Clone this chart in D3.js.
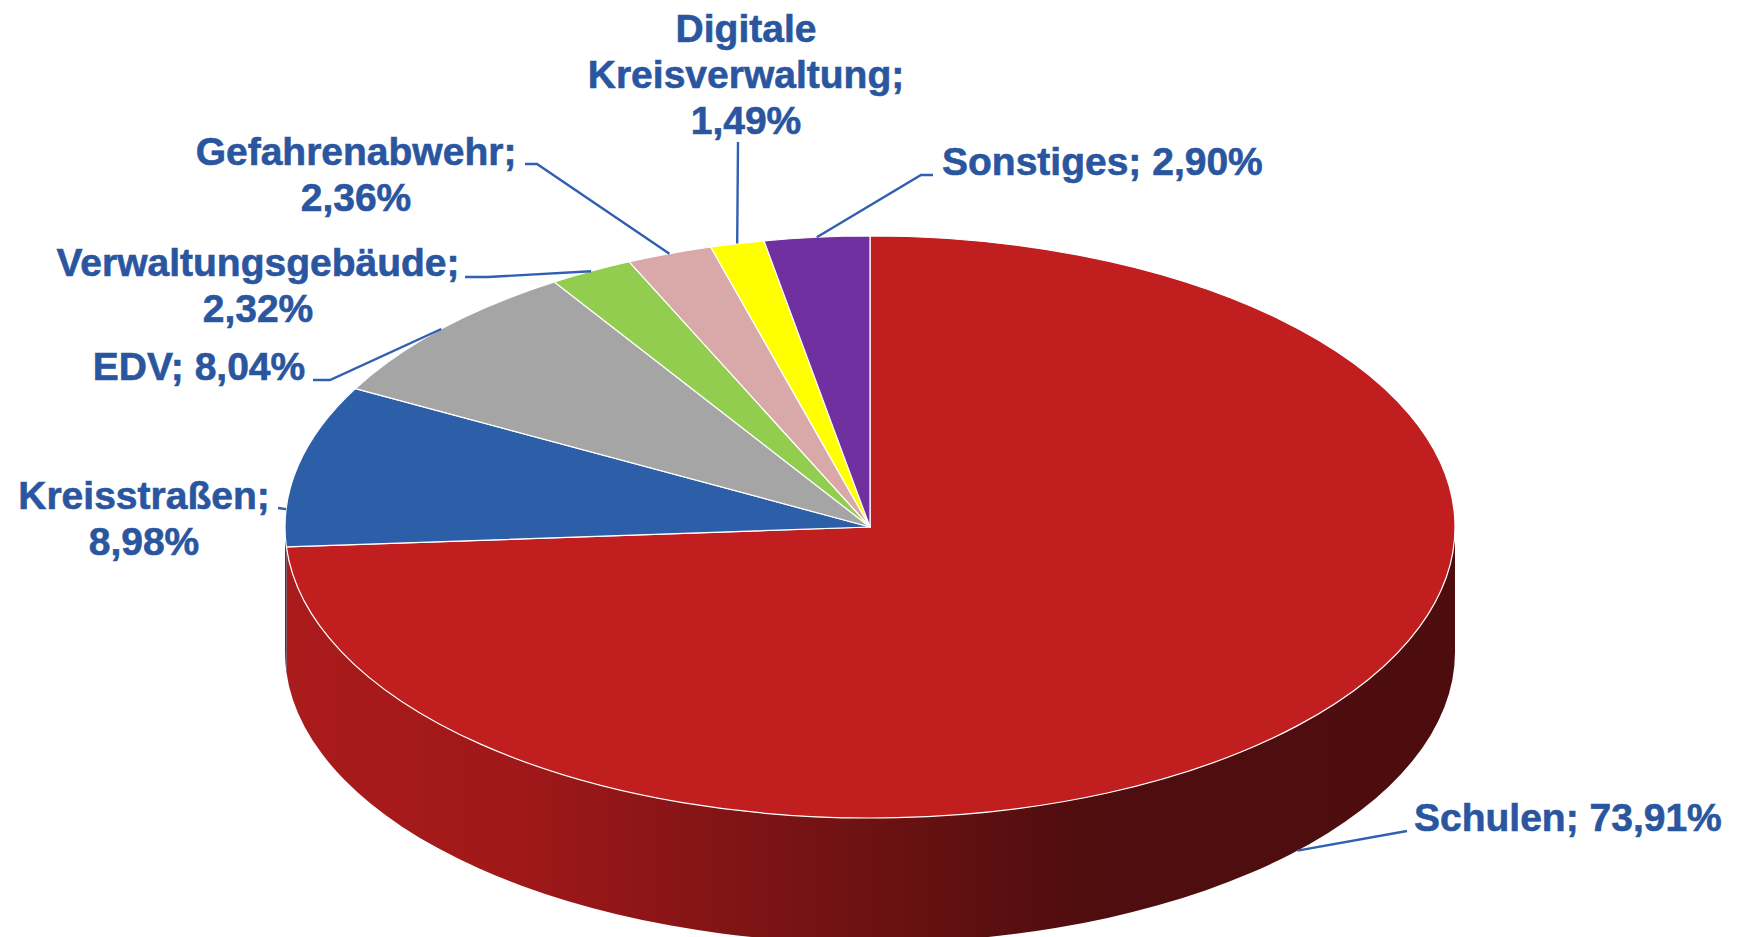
<!DOCTYPE html>
<html>
<head>
<meta charset="utf-8">
<script src="https://cdn.jsdelivr.net/npm/d3@7"></script>
<style>
  html, body { margin: 0; padding: 0; background: #ffffff; }
  svg { display: block; }
</style>
</head>
<body>
<svg id="chart" width="1742" height="937"></svg>
<script>
// ---- data ----
const categories = ["Schulen", "Kreisstraßen", "EDV", "Verwaltungsgebäude", "Gefahrenabwehr", "Digitale\nKreisverwaltung", "Sonstiges"];
const values = [73.91, 8.98, 8.04, 2.32, 2.36, 1.49, 2.90];
const colors = ["#C01E1F", "#2D5FA8", "#A5A5A5", "#92CD50", "#D9A9A9", "#FFFF00", "#7030A0"];
const sideColors = ["url(#sideGrad)", "#1F4275", "#737373", "#669038", "#987676", "#B3B300", "#4E2270"];
const labelSeparators = [" ", "\n", " ", "\n", "\n", "\n", " "];

// ---- layout (positions only) ----
const W = 1742, H = 937;
const cx = 870, cy = 527, rx = 585, ry = 291, depth = 125;
const labelLayout = [
  { x: 1414, y: 831, anchor: "start",  frac: 0.5,  onSide: true,  leader: [[1407, 831]] },
  { x: 144,  y: 509, anchor: "middle", frac: 0.23, onSide: false, leader: [[278, 508]] },
  { x: 199,  y: 380, anchor: "middle", frac: 0.5,  onSide: false, leader: [[313, 380], [330, 380]] },
  { x: 258,  y: 276, anchor: "middle", frac: 0.5,  onSide: false, leader: [[465, 277], [488, 277]] },
  { x: 356,  y: 165, anchor: "middle", frac: 0.5,  onSide: false, leader: [[525, 164], [537, 164]] },
  { x: 746,  y: 42,  anchor: "middle", frac: 0.5,  onSide: false, leader: [[738, 142]] },
  { x: 942,  y: 175, anchor: "start",  frac: 0.5,  onSide: false, leader: [[933, 175], [921, 175]] }
];
const lineGap = 46;
const textColor = "#2A56A0";
const leaderColor = "#3060B2";

const fmt = d3.formatLocale({ decimal: ",", thousands: ".", grouping: [3], currency: ["", "€"] }).format(".2f");

const svg = d3.select("#chart");
svg.append("rect").attr("width", W).attr("height", H).attr("fill", "#ffffff");

const defs = svg.append("defs");
const grad = defs.append("linearGradient")
  .attr("id", "sideGrad").attr("gradientUnits", "userSpaceOnUse")
  .attr("x1", cx - rx).attr("x2", cx + rx).attr("y1", 0).attr("y2", 0);
[[0, "#AA1B1C"], [0.2, "#A01819"], [0.44, "#771314"], [0.58, "#601011"], [0.68, "#4F0D0E"], [1, "#4D0D0E"]]
  .forEach(([o, c]) => grad.append("stop").attr("offset", o).attr("stop-color", c));

const pie = d3.pie().sort(null).value(d => d)(values);

const pt = (a, dy = 0) => [cx + rx * Math.sin(a), cy - ry * Math.cos(a) + dy];

// ---- side walls (visible front half: angles PI/2 .. 3PI/2) ----
const sideG = svg.append("g");
pie.forEach((s, i) => {
  const a0 = Math.max(s.startAngle, Math.PI / 2);
  const a1 = Math.min(s.endAngle, 3 * Math.PI / 2);
  if (a1 <= a0) return;
  const p0 = pt(a0), p1 = pt(a1), q1 = pt(a1, depth), q0 = pt(a0, depth);
  const large = (a1 - a0) > Math.PI ? 1 : 0;
  const d = `M${p0[0]},${p0[1]} A${rx},${ry} 0 ${large} 1 ${p1[0]},${p1[1]}` +
            ` L${q1[0]},${q1[1]} A${rx},${ry} 0 ${large} 0 ${q0[0]},${q0[1]} Z`;
  sideG.append("path").attr("d", d).attr("fill", sideColors[i]);
});

// ---- top surface ----
const arc = d3.arc().innerRadius(0).outerRadius(rx);
svg.append("g")
  .attr("transform", `translate(${cx},${cy}) scale(1,${ry / rx})`)
  .selectAll("path").data(pie).join("path")
  .attr("d", arc)
  .attr("fill", (d, i) => colors[i])
  .attr("stroke", "#ffffff")
  .attr("stroke-width", 1.2)
  .attr("vector-effect", "non-scaling-stroke")
  .attr("stroke-linejoin", "round");

// ---- leader lines ----
const line = d3.line();
const leadG = svg.append("g");
pie.forEach((s, i) => {
  const L = labelLayout[i];
  const a = s.startAngle + L.frac * (s.endAngle - s.startAngle);
  const start = pt(a, L.onSide ? depth : 0);
  const pts = L.leader.concat([start]);
  leadG.append("path").attr("d", line(pts))
    .attr("fill", "none").attr("stroke", leaderColor).attr("stroke-width", 2.4);
});

// ---- labels ----
const labG = svg.append("g")
  .attr("font-family", "'Liberation Sans', Arial, Helvetica, sans-serif")
  .attr("font-weight", "bold")
  .attr("font-size", 39)
  .attr("fill", textColor)
  .attr("stroke", textColor)
  .attr("stroke-width", 0.6);
pie.forEach((s, i) => {
  const L = labelLayout[i];
  const txt = categories[i] + ";" + labelSeparators[i] + fmt(values[i]) + "%";
  const lines = txt.split("\n");
  const t = labG.append("text").attr("x", L.x).attr("y", L.y).attr("text-anchor", L.anchor);
  lines.forEach((ln, k) => {
    t.append("tspan").attr("x", L.x).attr("dy", k === 0 ? 0 : lineGap).text(ln);
  });
});
</script>
</body>
</html>
